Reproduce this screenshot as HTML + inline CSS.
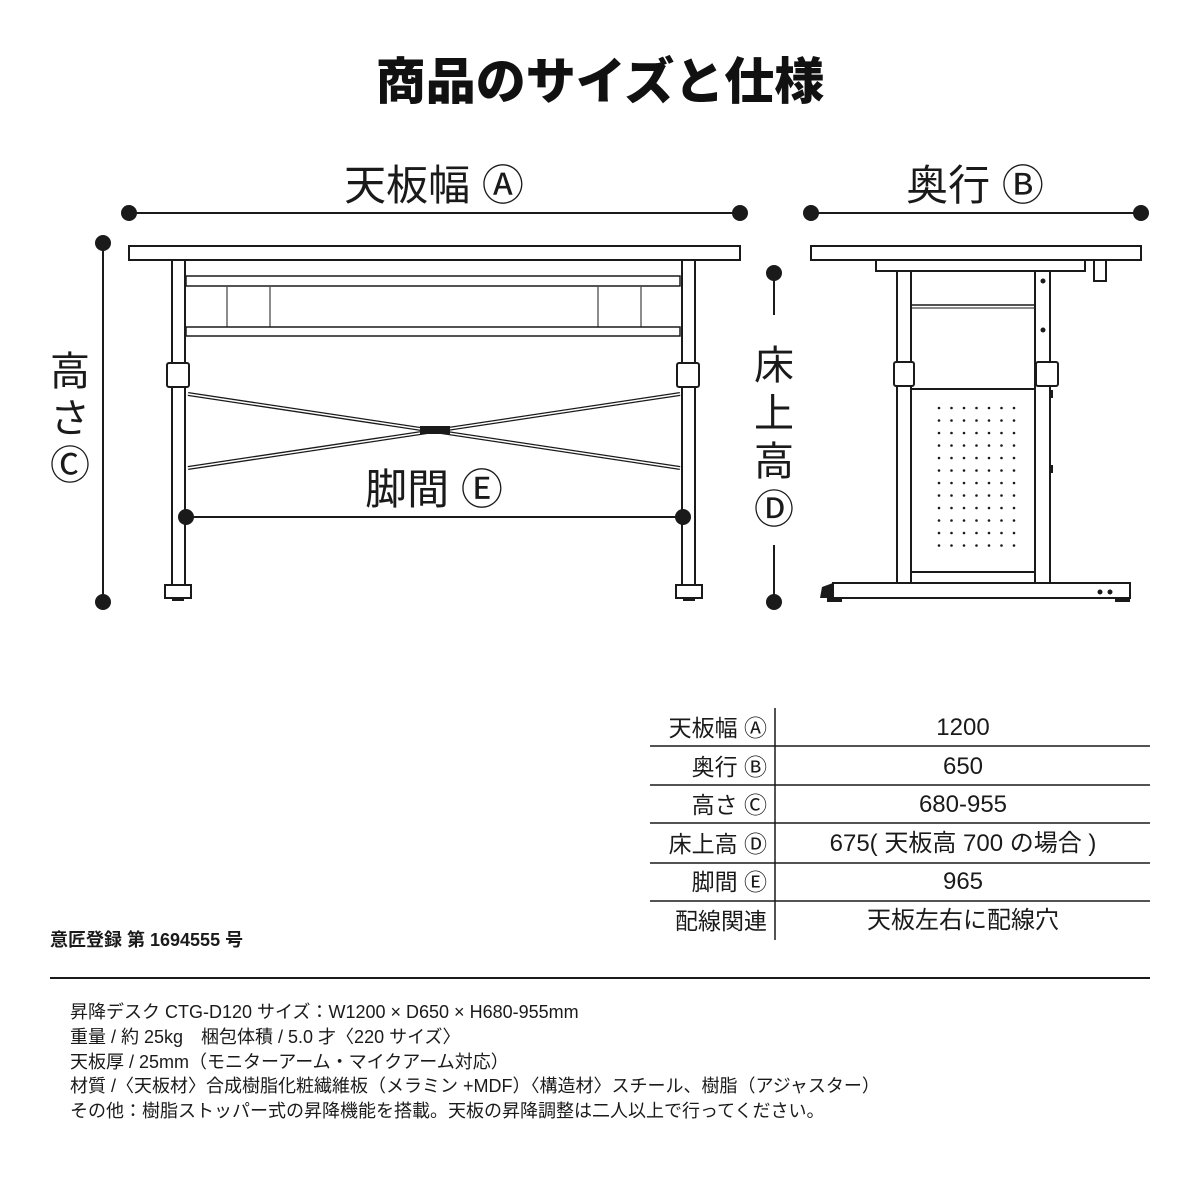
<!DOCTYPE html>
<html><head><meta charset="utf-8"><style>
html,body{margin:0;padding:0;background:#fff;}
body{width:1200px;height:1200px;position:relative;overflow:hidden;font-family:"Liberation Sans","Noto Sans CJK JP",sans-serif;color:#1a1a1a;}
.t{position:absolute;white-space:nowrap;}
</style></head><body>
<svg width="1200" height="1200" style="position:absolute;left:0;top:0" xmlns="http://www.w3.org/2000/svg">
<g fill="#fff" stroke="#1a1a1a" stroke-width="2">
<line x1="129" y1="213" x2="740" y2="213"/>
<line x1="811" y1="213" x2="1141" y2="213"/>
<line x1="103" y1="243" x2="103" y2="602"/>
<line x1="774" y1="273" x2="774" y2="315"/>
<line x1="774" y1="545" x2="774" y2="602"/>
</g>
<g fill="#1a1a1a">
<circle cx="129" cy="213" r="8"/><circle cx="740" cy="213" r="8"/>
<circle cx="811" cy="213" r="8"/><circle cx="1141" cy="213" r="8"/>
<circle cx="103" cy="243" r="8"/><circle cx="103" cy="602" r="8"/>
<circle cx="774" cy="273" r="8"/><circle cx="774" cy="602" r="8"/>
</g>
<g fill="#fff" stroke="#1a1a1a" stroke-width="2">
<rect x="129" y="246" width="611" height="14"/>
<rect x="186" y="276" width="494" height="10" stroke-width="1.5"/>
<rect x="186" y="327" width="494" height="9" stroke-width="1.5"/>
<line x1="227" y1="287" x2="227" y2="327" stroke-width="1"/>
<line x1="270" y1="287" x2="270" y2="327" stroke-width="1"/>
<line x1="598" y1="287" x2="598" y2="327" stroke-width="1"/>
<line x1="641" y1="287" x2="641" y2="327" stroke-width="1"/>
<line x1="188" y1="394" x2="680" y2="468" stroke-width="4"/>
<line x1="188" y1="394" x2="680" y2="468" stroke="#fff" stroke-width="1.5"/>
<line x1="188" y1="468" x2="680" y2="394" stroke-width="4"/>
<line x1="188" y1="468" x2="680" y2="394" stroke="#fff" stroke-width="1.5"/>
<rect x="172" y="260" width="13" height="325"/>
<rect x="682" y="260" width="13" height="325"/>
<rect x="167" y="363" width="22" height="24" rx="2"/>
<rect x="677" y="363" width="22" height="24" rx="2"/>
<rect x="165" y="585" width="26" height="13"/>
<rect x="676" y="585" width="26" height="13"/>
<line x1="186" y1="517" x2="683" y2="517"/>
</g>
<g fill="#1a1a1a"><circle cx="186" cy="517" r="8"/><circle cx="683" cy="517" r="8"/><rect x="420" y="426" width="30" height="8"/><rect x="172" y="597" width="12" height="4"/><rect x="683" y="597" width="12" height="4"/></g>
<g fill="#fff" stroke="#1a1a1a" stroke-width="2">
<rect x="811" y="246" width="330" height="14"/>
<rect x="876" y="260" width="209" height="11"/>
<rect x="1094" y="260" width="12" height="21"/>
<line x1="911" y1="305" x2="1035" y2="305" stroke-width="1.5"/>
<line x1="911" y1="308" x2="1035" y2="308" stroke-width="1"/>
<rect x="911" y="389" width="124" height="183"/>
<rect x="897" y="271" width="14" height="312"/>
<rect x="1035" y="271" width="15" height="312"/>
<rect x="894" y="362" width="20" height="24" rx="2"/>
<rect x="1036" y="362" width="22" height="24" rx="2"/>
<rect x="833" y="583" width="297" height="15"/>
</g>
<g fill="#1a1a1a">
<polygon points="833,583 822,587 820,598 833,598"/>
<rect x="827" y="598" width="15" height="4"/><rect x="1115" y="598" width="15" height="4"/>
<rect x="1050" y="390" width="3" height="8"/><rect x="1050" y="465" width="3" height="8"/>
<circle cx="1043" cy="281" r="2.5"/><circle cx="1043" cy="330" r="2.5"/>
<circle cx="1100" cy="592" r="2.5"/><circle cx="1110" cy="592" r="2.5"/>
</g>
<g fill="#1a1a1a" id="dots"></g>
</svg>
<script>
var g=document.getElementById('dots'),s='';
for(var r=0;r<12;r++)for(var c=0;c<7;c++){s+='<circle cx="'+(939+c*12.5)+'" cy="'+(408+r*12.5)+'" r="1.3"/>';}
g.innerHTML=s;
</script>
<div class="t" style="left:0;width:1200px;text-align:center;top:42px;font-size:50px;font-weight:900;color:#111">商品のサイズと仕様</div>
<div class="t" style="left:284px;width:300px;text-align:center;top:152px;font-size:42px">天板幅 Ⓐ</div>
<div class="t" style="left:825px;width:300px;text-align:center;top:152px;font-size:42px">奥行 Ⓑ</div>
<div class="t" style="left:284px;width:300px;text-align:center;top:456px;font-size:42px">脚間 Ⓔ</div>
<div class="t" style="left:48px;top:349px;width:44px;font-size:40px;line-height:47px;text-align:center;white-space:normal">高<br>さ<br>Ⓒ</div>
<div class="t" style="left:752px;top:342px;width:44px;font-size:40px;line-height:48px;text-align:center;white-space:normal">床<br>上<br>高<br>Ⓓ</div>
<svg width="1200" height="1200" style="position:absolute;left:0;top:0" xmlns="http://www.w3.org/2000/svg">
<g stroke="#1a1a1a" stroke-width="1.5">
<line x1="775" y1="708" x2="775" y2="940"/>
<line x1="650" y1="746" x2="1150" y2="746"/>
<line x1="650" y1="785" x2="1150" y2="785"/>
<line x1="650" y1="823" x2="1150" y2="823"/>
<line x1="650" y1="863" x2="1150" y2="863"/>
<line x1="650" y1="901" x2="1150" y2="901"/>
<line x1="50" y1="978" x2="1150" y2="978" stroke-width="2"/>
</g></svg>
<div style="position:absolute;left:640px;top:709px;width:127px;font-size:23px;text-align:right;line-height:38.6px;white-space:nowrap">天板幅 Ⓐ<br>奥行 Ⓑ<br>高さ Ⓒ<br>床上高 Ⓓ<br>脚間 Ⓔ<br>配線関連</div>
<div style="position:absolute;left:776px;top:709px;width:374px;font-size:24px;text-align:center;line-height:38.6px;white-space:nowrap">1200<br>650<br>680-955<br>675( 天板高 700 の場合 )<br>965<br>天板左右に配線穴</div>
<div class="t" style="left:50px;top:926px;font-size:18px;font-weight:bold">意匠登録 第 1694555 号</div>
<div style="position:absolute;left:70px;top:1000px;font-size:18px;line-height:24.8px;white-space:nowrap">昇降デスク CTG-D120 サイズ：W1200 × D650 × H680-955mm<br>重量 / 約 25kg　梱包体積 / 5.0 才〈220 サイズ〉<br>天板厚 / 25mm（モニターアーム・マイクアーム対応）<br>材質 /〈天板材〉合成樹脂化粧繊維板（メラミン +MDF）〈構造材〉スチール、樹脂（アジャスター）<br>その他：樹脂ストッパー式の昇降機能を搭載。天板の昇降調整は二人以上で行ってください。</div>
</body></html>
